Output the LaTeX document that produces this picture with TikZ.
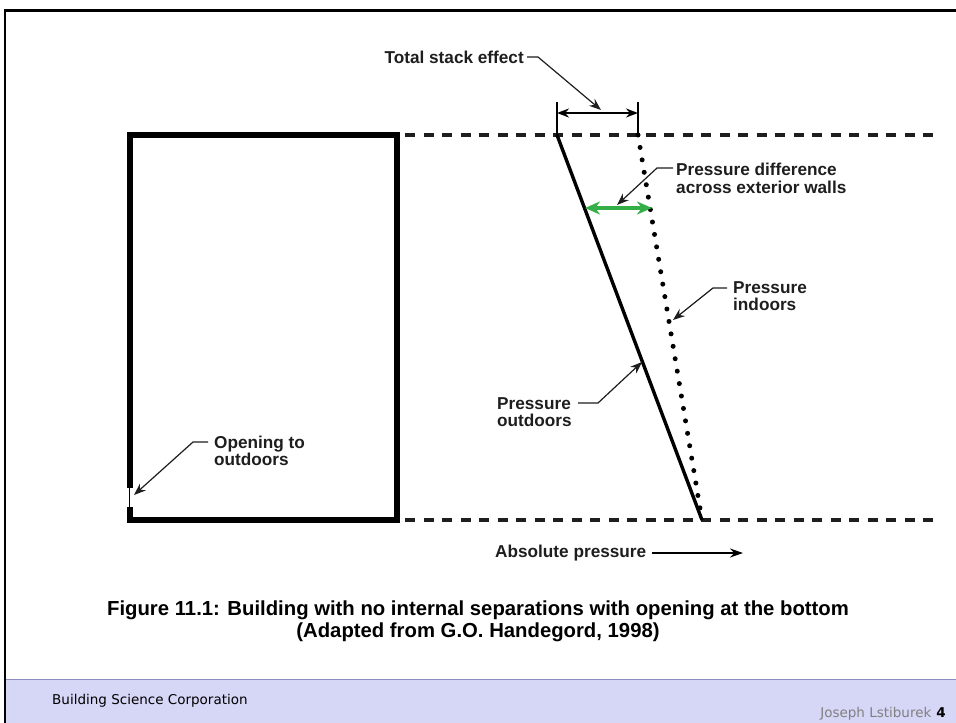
\documentclass[tikz,border=0pt]{standalone}
\usepackage{fontspec}
\setmainfont{Liberation Sans}
\newfontfamily\footfont{DejaVu Sans}
\usetikzlibrary{arrows.meta}

\definecolor{bandfill}{RGB}{214,214,247}
\definecolor{bandline}{RGB}{140,140,190}
\definecolor{diffgreen}{RGB}{52,174,70}
\definecolor{inkgray}{RGB}{30,30,30}

\begin{document}
\begin{tikzpicture}[
	x=1pt, y=-1pt,
	wall/.style={
		line width=6pt,
		line cap=rect,
		draw=black
	},
	level/.style={
		line width=3.2pt,
		dash pattern=on 10pt off 8.5pt,
		draw=inkgray
	},
	leader/.style={
		line width=1.2pt,
		draw=inkgray,
		-{Stealth[length=12pt,width=9pt,inset=4pt]}
	},
	dimline/.style={
		line width=1.8pt,
		{Stealth[length=12pt,width=9pt]}-{Stealth[length=12pt,width=9pt]}
	},
	txtnote/.style={
		font=\fontsize{17.2}{17.5}\selectfont\bfseries,
		text=inkgray,
		align=left,
		inner sep=0pt,
		anchor=west
	},
]

\useasboundingbox (0,0) rectangle (956,723);
\fill[white] (0,0) rectangle (956,723);

%% Slide frame %%
\fill[bandfill] (5,679) rectangle (956,723);
\draw[bandline, line width=1pt] (5,679) -- (956,679);
\draw[line width=3pt] (4,10) -- (956,10);
\draw[line width=2pt] (5,10) -- (5,723);

%% Building %%
\draw[wall, line join=miter] (129.5,485) -- (129.5,135) -- (397,135) -- (397,520) -- (129.5,520) -- (129.5,510);
\draw[line width=0.8pt] (129.5,485) -- (129.5,510);

%% Levels %%
\draw[level] (405,135) -- (940,135);
\draw[level] (405,520) -- (940,520);

%% Pressure lines %%
\coordinate (outtop) at (557,135);
\coordinate (intop) at (638,135);
\coordinate (meet) at (702,520);
\draw[line width=3.4pt] (outtop) -- (meet);
\draw[line width=5pt, line cap=round, dash pattern=on 0pt off 12.6pt] (intop) -- (meet);

% total stack effect %
\draw[line width=1.8pt] (557,102) -- (outtop);
\draw[line width=1.8pt] (638,102) -- (intop);
\coordinate (dimL) at (557,113);
\coordinate (dimR) at (638,113);
\draw[dimline] (dimL) -- (dimR);

% pressure difference %
\coordinate (diffL) at (585,208);
\coordinate (diffR) at (652,208);
\draw[diffgreen, line width=4pt,
	{Stealth[length=15pt,width=13pt]}-{Stealth[length=15pt,width=13pt]}] (diffL) -- (diffR);

%% Labels %%
\node[txtnote, anchor=east] (tse) at (524,57) {Total stack effect};
\coordinate (tseA) at (527,57);
\coordinate (tseB) at (538,57);
\coordinate (tseTip) at (601,110);
\draw[leader] (tseA) -- (tseB) -- (tseTip);

\node[txtnote] (pdiff) at (676,178.5) {Pressure difference\\across exterior walls};
\coordinate (pdA) at (673,168);
\coordinate (pdB) at (657,168);
\coordinate (pdTip) at (617,205);
\draw[leader] (pdA) -- (pdB) -- (pdTip);

\node[txtnote] (pin) at (733,296) {Pressure\\indoors};
\coordinate (pinA) at (727,288);
\coordinate (pinB) at (713,288);
\coordinate (pinTip) at (673,320);
\draw[leader] (pinA) -- (pinB) -- (pinTip);

\node[txtnote] (pout) at (497,412) {Pressure\\outdoors};
\coordinate (poutA) at (578,403);
\coordinate (poutB) at (598,403);
\coordinate (poutTip) at (642,362);
\draw[leader] (poutA) -- (poutB) -- (poutTip);

\node[txtnote] (open) at (214,451) {Opening to\\outdoors};
\coordinate (openA) at (208,442);
\coordinate (openB) at (193,442);
\coordinate (openTip) at (134,495);
\draw[leader] (openA) -- (openB) -- (openTip);

\node[txtnote] (abs) at (495,553) {Absolute pressure};
\coordinate (absA) at (652,553);
\coordinate (absTip) at (743,553);
\draw[line width=1.8pt, -{Stealth[length=13pt,width=9pt]}] (absA) -- (absTip);

%% Caption %%
\node[font=\fontsize{20.3}{22}\selectfont\bfseries, align=center, inner sep=0pt] (cap) at (478,621)
	{Figure 11.1: Building with no internal separations with opening at the bottom\\(Adapted from G.O. Handegord, 1998)};

%% Footer %%
\node[font=\footfont\fontsize{13.5}{15}\selectfont, anchor=west, inner sep=0pt] (corp) at (52,701) {Building Science Corporation};
\node[font=\footfont\fontsize{13.5}{15}\selectfont, anchor=east, inner sep=0pt] (auth) at (946,714)
	{\textcolor{gray}{Joseph Lstiburek}\hspace{5pt}\textbf{4}};

\end{tikzpicture}
\end{document}
